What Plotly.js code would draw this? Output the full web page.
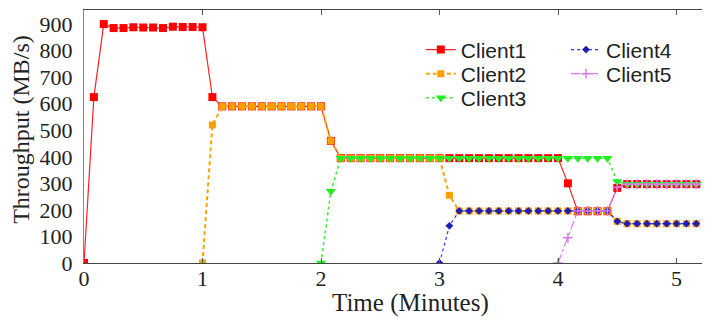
<!DOCTYPE html>
<html>
<head>
<meta charset="utf-8">
<script src="https://cdn.plot.ly/plotly-3.0.1.min.js"></script>
<style>html,body{margin:0;padding:0;background:#fff}#chart{width:725px;height:324px}</style>
</head>
<body>
<div id="chart"></div>
<script>
// Time stamps in seconds (sampled every 5 s), converted to minutes for the axis
const c1Sec = [0,5,10,15,20,25,30,35,40,45,50,55,60,65,70,75,80,85,90,95,100,105,110,115,120,125,130,135,140,145,150,155,160,165,170,175,180,185,190,195,200,205,210,215,220,225,230,235,240,245,250,255,260,265,270,275,280,285,290,295,300,305,310];
const c1Val = [0,625,900,885,885,888,887,887,885,890,889,889,888,625,590,590,590,590,590,590,590,590,590,590,590,460,395,395,395,395,395,395,395,395,395,395,395,395,395,395,395,395,395,395,395,395,395,395,395,300,195,195,195,195,283,297,297,297,297,297,297,297,297];

const c2Sec = [60,65,70,75,80,85,90,95,100,105,110,115,120,125,130,135,140,145,150,155,160,165,170,175,180,185,190,195,200,205,210,215,220,225,230,235,240,245,250,255,260,265,270,275,280,285,290,295,300,305,310];
const c2Val = [0,520,590,590,590,590,590,590,590,590,590,590,590,460,395,395,395,395,395,395,395,395,395,395,395,255,196,196,196,196,196,196,196,196,196,196,196,196,196,196,196,196,157,148,148,148,148,148,148,148,148];

const c3Sec = [120,125,130,135,140,145,150,155,160,165,170,175,180,185,190,195,200,205,210,215,220,225,230,235,240,245,250,255,260,265,270,275,280,285,290,295,300,305,310];
const c3Val = [0,270,395,395,395,395,395,395,395,395,395,395,395,395,395,395,395,395,395,395,395,395,395,395,395,395,395,395,395,395,307,297,297,297,297,297,297,297,297];

const c4Sec = [180,185,190,195,200,205,210,215,220,225,230,235,240,245,250,255,260,265,270,275,280,285,290,295,300,305,310];
const c4Val = [0,140,196,196,196,196,196,196,196,196,196,196,196,196,196,196,196,196,157,148,148,148,148,148,148,148,148];

const c5Sec = [240,245,250,255,260,265,270,275,280,285,290,295,300,305,310];
const c5Val = [0,95,196,196,196,196,285,297,297,297,297,297,297,297,297];

const names = ['Client1','Client2','Client3','Client4','Client5'];
const xTicks = [0,1,2,3,4,5];
const yTicks = [0,100,200,300,400,500,600,700,800,900];
const xTitle = 'Time (Minutes)';
const yTitle = 'Throughput (MB/s)';

const toMin = a => a.map(s => s/60);

const traces = [
  {x: toMin(c1Sec), y: c1Val, name: names[0], legend: 'legend',
   line: {color: '#ff2020', width: 1.2, dash: 'solid'},
   marker: {symbol: 'square', size: 8, color: '#ff0000'}},
  {x: toMin(c2Sec), y: c2Val, name: names[1], legend: 'legend2',
   line: {color: '#ffa500', width: 2, dash: '4px,3px'},
   marker: {symbol: 'square', size: 7, color: '#ffa000'}},
  {x: toMin(c3Sec), y: c3Val, name: names[2], legend: 'legend3',
   line: {color: '#33ee33', width: 1.5, dash: 'dot'},
   marker: {symbol: 'triangle-down', size: 9, color: '#22ee22'}},
  {x: toMin(c4Sec), y: c4Val, name: names[3], legend: 'legend4',
   line: {color: '#3333ff', width: 1.2, dash: 'dot'},
   marker: {symbol: 'diamond', size: 6, color: '#1e1eb4'}},
  {x: toMin(c5Sec), y: c5Val, name: names[4], legend: 'legend5',
   line: {color: '#dd77ee', width: 1.2, dash: 'dashdot'},
   marker: {symbol: 'cross-thin', size: 7, color: '#dd77ee', line: {color: '#dd77ee', width: 1.5}}}
].map(t => Object.assign({type: 'scatter', mode: 'lines+markers'}, t));

const legendFont = {family: 'Liberation Sans, Arial, sans-serif', size: 21, color: '#222'};
const serif = 'Liberation Serif, Times New Roman, serif';
const leg = (x, y) => ({x: x, y: y, xanchor: 'left', yanchor: 'middle', bgcolor: 'rgba(0,0,0,0)',
  borderwidth: 0, font: legendFont, tracegroupgap: 0, itemwidth: 30});

const layout = {
  width: 725, height: 324,
  margin: {l: 84, r: 23, t: 10, b: 61},
  paper_bgcolor: '#fff', plot_bgcolor: '#fff',
  showlegend: true,
  xaxis: {
    range: [0, 5.215], tickvals: xTicks, ticktext: xTicks.map(String),
    ticks: 'inside', ticklen: 5, tickcolor: '#555',
    showline: true, linecolor: '#444', linewidth: 1.2, mirror: 'ticks',
    showgrid: false, zeroline: false, automargin: false, ticklabelstandoff: -5,
    tickfont: {family: serif, size: 22, color: '#222'}
  },
  yaxis: {
    range: [0, 953], tickvals: yTicks, ticktext: yTicks.map(String),
    ticks: 'outside', ticklen: 6, tickcolor: 'rgba(0,0,0,0)', showline: true, linecolor: '#888', linewidth: 1,
    showgrid: false, zeroline: false, automargin: false,
    tickfont: {family: serif, size: 22, color: '#222'}
  },
  annotations: [
    {text: xTitle, xref: 'paper', yref: 'paper', x: 0.529, y: -0.16, xanchor: 'center', yanchor: 'middle',
     showarrow: false, font: {family: serif, size: 25, color: '#222'}},
    {text: yTitle, xref: 'paper', yref: 'paper', x: -0.102, y: 0.53, xanchor: 'center', yanchor: 'middle',
     textangle: -90, showarrow: false, font: {family: serif, size: 24, color: '#222'}}
  ],
  legend: leg(0.545, 0.842),
  legend2: leg(0.545, 0.747),
  legend3: leg(0.545, 0.652),
  legend4: leg(0.78, 0.842),
  legend5: leg(0.78, 0.747)
};

Plotly.newPlot('chart', traces, layout, {displayModeBar: false, staticPlot: true});
</script>
</body>
</html>
